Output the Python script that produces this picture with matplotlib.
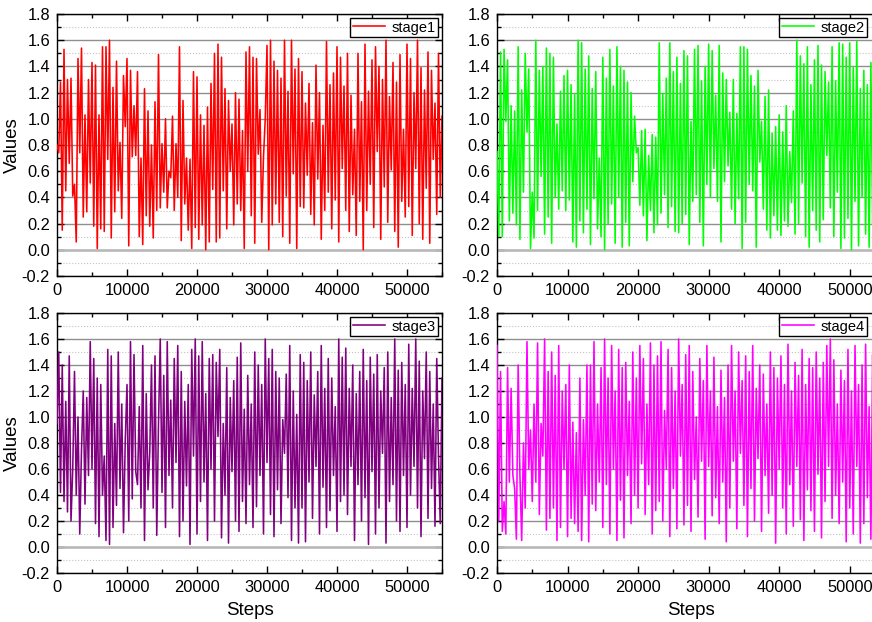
import numpy as np
import matplotlib
matplotlib.use("Agg")
import matplotlib.pyplot as plt
from matplotlib.ticker import MultipleLocator

plt.rcParams["font.family"] = ["Liberation Sans", "DejaVu Sans"]

# values, one point every 250 steps
stage1 = [
    0.80, 0.74, 1.28, 0.15, 1.53, 0.45, 1.30, 0.66, 1.31, 0.41, 0.50, 0.06, 1.46, 0.74, 1.54, 0.25, 1.03, 0.29, 1.30, 0.51,
    1.43, 0.18, 1.41, 0.01, 1.03, 0.16, 1.55, 0.14, 1.55, 0.69, 1.60, 0.09, 1.24, 0.29, 1.44, 0.45, 0.82, 0.24, 1.33, 0.94,
    1.46, 0.03, 1.37, 0.71, 1.10, 0.72, 1.36, 0.10, 0.70, 0.04, 1.23, 0.26, 1.06, 0.18, 0.80, 0.09, 1.13, 0.30, 1.49, 0.32,
    0.81, 0.44, 1.00, 0.32, 0.60, 0.55, 1.02, 0.30, 0.81, 0.40, 1.55, 0.07, 1.14, 0.35, 0.70, 0.15, 0.69, 0.01, 1.36, 0.17,
    1.32, 0.08, 1.03, 0.19, 0.95, 0.00, 1.09, 0.06, 1.27, 0.46, 1.50, 0.06, 1.57, 0.09, 1.47, 0.45, 1.23, 0.16, 1.14, 0.60,
    0.96, 0.19, 1.20, 0.35, 1.15, 0.30, 0.91, 0.01, 1.51, 0.60, 1.55, 0.26, 1.47, 0.05, 1.46, 0.73, 1.07, 0.21, 0.71, 1.00,
    1.56, 0.00, 1.60, 0.19, 1.44, 0.35, 1.37, 0.21, 1.31, 0.10, 1.60, 0.41, 1.21, 0.05, 1.60, 0.58, 1.38, 0.01, 1.46, 0.33,
    1.36, 0.32, 1.12, 0.57, 1.27, 0.27, 0.97, 0.19, 1.41, 0.54, 1.20, 0.08, 0.95, 0.30, 1.59, 0.44, 1.26, 0.16, 1.35, 0.38,
    1.55, 0.06, 1.47, 0.62, 1.25, 0.30, 1.50, 0.14, 1.18, 0.42, 0.92, 0.11, 1.50, 0.37, 1.13, 0.00, 1.57, 0.30, 1.21, 0.50,
    1.45, 0.17, 1.55, 0.75, 1.40, 0.08, 1.30, 0.48, 1.60, 0.21, 1.17, 0.61, 1.43, 0.14, 1.28, 0.02, 1.49, 0.37, 0.92, 0.25,
    1.57, 0.33, 1.46, 0.11, 1.20, 0.62, 1.60, 0.20, 1.39, 0.08, 1.22, 0.47, 1.51, 0.05, 1.37, 0.69, 1.12, 0.27, 1.50, 0.40,
    1.02,
]

stage2 = [
    0.75, 0.10, 1.51, 0.10, 1.53, 0.98, 1.45, 0.22, 1.10, 0.28, 1.06, 0.19, 1.55, 0.08, 1.22, 0.44, 1.50, 0.90, 1.38, 0.01,
    0.44, 0.09, 1.60, 0.30, 1.37, 0.56, 1.40, 0.12, 1.54, 0.25, 1.50, 0.05, 1.47, 0.40, 0.96, 0.31, 1.21, 0.45, 1.33, 0.30,
    1.37, 0.38, 1.26, 0.06, 1.19, 0.02, 1.60, 0.22, 1.58, 0.13, 1.38, 0.31, 1.48, 0.04, 1.23, 0.39, 1.36, 0.16, 0.70, 0.10,
    1.47, 0.00, 1.31, 0.20, 1.53, 0.35, 1.25, 0.05, 1.55, 0.40, 1.40, 0.02, 1.37, 0.21, 1.28, 0.03, 1.20, 0.52, 1.02, 0.74,
    0.78, 0.34, 0.91, 0.26, 0.92, 0.07, 0.72, 0.30, 0.88, 0.13, 0.86, 0.19, 1.58, 0.28, 1.19, 0.42, 1.31, 0.17, 1.58, 0.33,
    1.36, 0.14, 1.47, 0.13, 1.27, 0.20, 1.52, 0.27, 1.48, 0.04, 0.98, 0.37, 1.53, 0.42, 1.56, 0.21, 1.29, 0.03, 1.40, 0.50,
    1.57, 0.40, 1.52, 0.62, 1.18, 0.37, 1.56, 0.06, 1.35, 0.52, 1.30, 0.64, 1.05, 0.31, 1.30, 0.20, 1.04, 0.39, 1.55, 0.01,
    1.55, 0.21, 1.53, 0.50, 1.33, 0.45, 1.25, 0.02, 1.37, 0.67, 0.98, 0.31, 1.17, 0.15, 1.22, 0.09, 0.89, 0.26, 0.94, 0.15,
    1.03, 0.11, 0.90, 0.22, 1.10, 0.18, 0.75, 0.36, 1.06, 0.12, 1.60, 0.20, 1.48, 0.51, 1.42, 0.10, 1.55, 0.02, 1.26, 0.30,
    1.45, 0.15, 1.56, 0.06, 1.41, 0.23, 1.36, 0.72, 1.28, 0.32, 1.55, 0.10, 1.29, 0.44, 1.58, 0.01, 1.57, 0.09, 1.47, 0.24,
    1.58, 0.00, 1.39, 0.37, 1.59, 0.03, 1.23, 0.40, 1.37, 0.12, 1.26, 0.02, 1.43, 0.19, 1.22, 0.10, 1.30, 0.58, 1.05, 0.12,
    0.95,
]

stage3 = [
    0.95, 1.50, 0.42, 1.40, 0.35, 1.12, 0.27, 1.47, 0.20, 0.60, 1.35, 0.40, 1.00, 0.10, 0.75, 1.20, 0.33, 1.15, 0.55, 1.58,
    0.60, 1.45, 0.18, 1.30, 0.08, 1.25, 0.40, 0.70, 0.05, 1.52, 0.02, 1.47, 0.15, 0.95, 0.32, 1.50, 0.45, 1.10, 0.11, 0.82,
    1.25, 0.20, 1.58, 0.37, 1.48, 0.58, 0.48, 1.08, 0.30, 1.55, 0.05, 1.18, 0.44, 0.73, 1.40, 0.30, 1.47, 0.09, 0.95, 1.60,
    0.42, 1.32, 0.15, 1.58, 0.55, 1.13, 0.30, 1.45, 0.65, 1.55, 0.08, 1.35, 0.20, 1.12, 0.47, 1.25, 0.02, 1.52, 0.70, 1.60,
    0.10, 1.47, 0.35, 1.58, 0.50, 1.18, 0.05, 1.45, 0.60, 1.48, 0.20, 1.42, 0.85, 1.52, 0.07, 0.95, 0.40, 1.38, 0.03, 1.15,
    0.58, 1.28, 0.20, 1.46, 0.12, 1.57, 0.35, 1.06, 0.18, 1.32, 0.48, 1.10, 0.15, 1.50, 0.31, 1.40, 0.55, 1.25, 0.10, 1.60,
    0.65, 1.45, 0.25, 1.52, 0.08, 1.35, 0.44, 1.30, 0.18, 0.98, 0.72, 1.33, 0.38, 1.55, 0.05, 1.20, 0.30, 1.02, 0.03, 1.48,
    0.30, 1.42, 0.04, 1.28, 0.50, 1.50, 0.22, 1.17, 0.62, 1.35, 0.10, 1.55, 0.46, 1.22, 0.15, 1.45, 0.28, 1.30, 0.55, 1.08,
    0.12, 1.60, 0.35, 1.46, 0.40, 1.53, 0.25, 1.22, 0.62, 1.40, 0.05, 1.18, 0.48, 1.35, 0.20, 1.52, 0.38, 1.28, 0.02, 1.46,
    0.58, 1.33, 0.10, 1.48, 0.30, 1.20, 0.72, 1.38, 0.03, 1.50, 0.35, 1.15, 0.48, 1.60, 0.20, 1.36, 0.12, 1.42, 0.55, 1.25,
    0.15, 1.56, 0.40, 1.22, 0.62, 1.60, 0.30, 1.43, 0.08, 1.20, 0.68, 1.50, 0.22, 1.35, 0.45, 1.10, 0.16, 1.45, 0.70, 0.18,
    1.30,
]

stage4 = [
    1.55, 0.20, 1.35, 0.12, 0.35, 0.10, 1.38, 0.50, 1.22, 0.55, 0.45, 0.06, 1.40, 0.55, 0.05, 0.80, 0.30, 1.58, 0.60, 0.90,
    0.35, 1.10, 0.50, 1.57, 0.25, 0.95, 0.70, 1.60, 0.13, 1.35, 0.22, 1.50, 0.30, 1.32, 0.05, 1.55, 0.15, 1.20, 0.60, 1.25,
    0.08, 1.40, 0.22, 0.96, 0.18, 0.88, 0.12, 1.30, 0.05, 0.98, 0.40, 1.40, 0.04, 1.40, 0.33, 1.58, 0.28, 1.10, 0.50, 1.38,
    0.15, 1.60, 0.48, 1.30, 0.10, 1.55, 0.60, 1.20, 0.05, 1.52, 0.36, 1.38, 0.07, 1.42, 0.55, 1.12, 0.18, 1.50, 0.40, 1.30,
    0.30, 1.55, 0.64, 1.45, 0.25, 1.10, 0.48, 1.57, 0.10, 1.40, 0.28, 1.47, 0.35, 1.58, 0.20, 1.05, 0.60, 1.52, 0.08, 1.38,
    0.45, 1.20, 0.14, 1.60, 0.70, 1.25, 0.17, 1.48, 0.32, 1.55, 0.12, 1.35, 0.52, 1.00, 0.23, 1.45, 0.66, 1.28, 0.06, 1.55,
    0.62, 1.20, 0.24, 1.46, 0.38, 1.08, 0.18, 1.36, 0.50, 1.15, 0.04, 1.40, 0.30, 1.55, 0.66, 1.20, 0.14, 1.50, 0.72, 1.28,
    0.32, 1.47, 0.08, 1.35, 0.45, 1.55, 0.20, 1.22, 0.68, 1.40, 0.12, 1.33, 0.55, 1.10, 0.26, 1.50, 0.40, 1.38, 0.03, 1.30,
    0.60, 1.47, 0.30, 1.25, 0.10, 1.56, 0.48, 1.20, 0.16, 1.42, 0.62, 1.32, 0.21, 1.52, 0.05, 1.25, 0.44, 1.45, 0.28, 1.38,
    0.12, 1.50, 0.56, 1.30, 0.07, 1.42, 0.35, 1.55, 0.62, 1.60, 0.22, 1.44, 0.40, 1.10, 0.18, 1.36, 0.50, 1.28, 0.04, 1.52,
    0.30, 1.20, 0.10, 1.55, 0.62, 1.25, 0.03, 1.40, 0.18, 1.56, 0.38, 1.08, 0.06, 1.48, 0.25, 1.30, 0.12, 1.55, 0.45, 1.40,
    0.95,
]

series = [stage1, stage2, stage3, stage4]
names = ["stage1", "stage2", "stage3", "stage4"]
colors = ["#ff0000", "#00ff00", "#800080", "#ff00ff"]
max_step = 55000

W, H = 872, 622
fig = plt.figure(figsize=(W / 100, H / 100), dpi=100)

# axes boxes in pixels: left, top, right, bottom
boxes = [
    (57, 14, 442, 276),
    (497, 14, 885, 276),
    (57, 313, 442, 573),
    (497, 313, 885, 573),
]

for i, (vals, name, col, box) in enumerate(zip(series, names, colors, boxes)):
    l, t, r, b = box
    ax = fig.add_axes([l / W, 1 - b / H, (r - l) / W, (b - t) / H])
    steps = np.linspace(0, max_step, len(vals))

    ax.set_axisbelow(True)
    ax.yaxis.grid(True, which="major", color="#8f8f8f", lw=1.0)
    ax.yaxis.grid(True, which="minor", color="#c4c4c4", lw=0.8, ls=":")
    ax.axhline(0, color="#b8b8b8", lw=1.8, zorder=1)

    ax.plot(steps, vals, color=col, lw=1.15, label=name, zorder=3)

    ax.set_xlim(0, max_step)
    ax.set_ylim(-0.2, 1.8)
    ax.set_xticks(range(0, 50001, 10000))
    ax.xaxis.set_minor_locator(MultipleLocator(5000))
    ax.yaxis.set_major_locator(MultipleLocator(0.2))
    ax.yaxis.set_minor_locator(MultipleLocator(0.1))
    ax.yaxis.set_major_formatter(matplotlib.ticker.FormatStrFormatter("%.1f"))

    ax.tick_params(which="both", direction="in", top=True, right=True,
                   labelsize=11.8, width=1.0, colors="black")
    ax.tick_params(which="major", length=5, pad=5)
    ax.tick_params(which="minor", length=3)
    for sp in ax.spines.values():
        sp.set_linewidth(1.0)
        sp.set_color("black")

    if i % 2 == 0:
        ax.set_ylabel("Values", fontsize=13.5, labelpad=0.5)
    if i >= 2:
        ax.set_xlabel("Steps", fontsize=13.5, labelpad=5)

    # right-hand legends sit at the picture's right edge
    right = 1.0 if i % 2 == 0 else (871 - l) / (r - l)
    leg = ax.legend(loc="upper right", bbox_to_anchor=(right, 1.0), fontsize=10.5,
                    frameon=True, fancybox=False, borderaxespad=0.25, borderpad=0.2,
                    handlelength=2.2, handletextpad=0.4)
    leg.get_frame().set_edgecolor("black")
    leg.get_frame().set_linewidth(1.0)
    leg.get_frame().set_alpha(1.0)

fig.savefig("out.png", dpi=100)
